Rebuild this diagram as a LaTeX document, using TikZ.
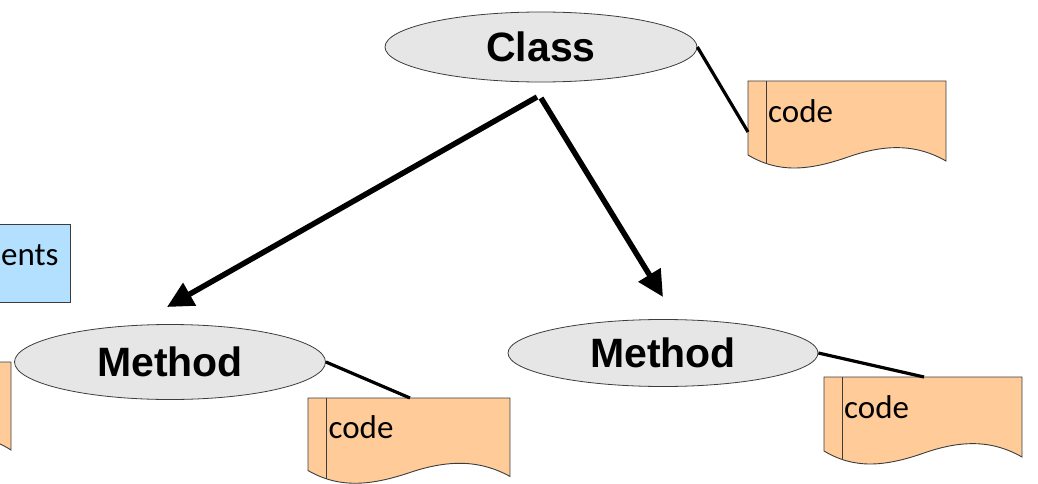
\documentclass[tikz,border=0pt]{standalone}
\usepackage{fontspec}
\usetikzlibrary{shapes.geometric,arrows.meta,calc}
\newfontfamily\headfont{Liberation Sans}
\newfontfamily\codefont{Carlito}
\definecolor{ellgray}{RGB}{230,230,230}
\definecolor{docorange}{RGB}{255,204,153}
\definecolor{noteblue}{RGB}{179,224,255}
\definecolor{edgegray}{RGB}{60,60,60}
\tikzset{
  ellnode/.style={ellipse, draw=edgegray, line width=0.8pt, fill=ellgray, inner sep=0pt,
    font=\headfont\bfseries\fontsize{41}{48}\selectfont},
  docstyle/.style={draw=edgegray, line width=0.9pt, fill=docorange},
  docline/.style={draw=edgegray, line width=0.9pt},
  codetxt/.style={font=\codefont\fontsize{33}{40}\selectfont, inner sep=0pt},
  tieline/.style={line width=3.2pt, line cap=butt},
  bigarrow/.style={line width=5.5pt, -{Triangle[length=26pt,width=25pt]}},
}
\newcommand\mydoc[5]{%
  \begin{scope}[shift={(#2,#3)}, xscale=#4, yscale=#5]
    \draw[docstyle] (0,0) -- (198,0) -- (198,80)
      .. controls (170,64) and (140,62) .. (100,76)
      .. controls (60,90) and (30,92) .. (0,74) -- cycle;
    \draw[docline] (18,0) -- (18,82.5);
    \coordinate (#1-l) at (0,51);
    \coordinate (#1-t) at (100,0);
    \coordinate (#1-txt) at (20,41);
  \end{scope}}
\begin{document}
\begin{tikzpicture}[x=1pt,y=-1pt]
\useasboundingbox (0,0) rectangle (1038,484);
\clip (0,0) rectangle (1038,484);

% note box (partly outside)
\draw[draw=edgegray, line width=0.9pt, fill=noteblue] (-80,224) rectangle (70,302);
\node[codetxt, anchor=base west] (note) at (1,265) {ents};

% ellipses
\node[ellnode, minimum width=312pt, minimum height=70pt] (class) at (541,47) {Class};
\node[ellnode, minimum width=311pt, minimum height=75pt] (m1) at (170,362) {Method};
\node[ellnode, minimum width=310pt, minimum height=67pt] (m2) at (663,353) {Method};

% documents
\mydoc{d0}{-187}{362}{1}{1.1}
\mydoc{d1}{748}{81}{1}{1}
\mydoc{d2}{308}{398}{1.02}{0.98}
\mydoc{d3}{824}{377}{1}{1}

\node[codetxt, anchor=base west] (t1) at (d1-txt) {code};
\node[codetxt, anchor=base west] (t2) at (d2-txt) {code};
\node[codetxt, anchor=base west] (t3) at (d3-txt) {code};

% tie lines
\draw[tieline] (class.east) -- (d1-l);
\draw[tieline] (m1.east) -- (d2-t);
\draw[tieline] (m2.east) -- (d3-t);

% arrows
\coordinate (s1) at (537,97);
\coordinate (s2) at (541,98);
\coordinate (e1) at (167,307);
\coordinate (e2) at (663,297);
\draw[bigarrow] (s1) -- (e1);
\draw[bigarrow] (s2) -- (e2);
\end{tikzpicture}
\end{document}
